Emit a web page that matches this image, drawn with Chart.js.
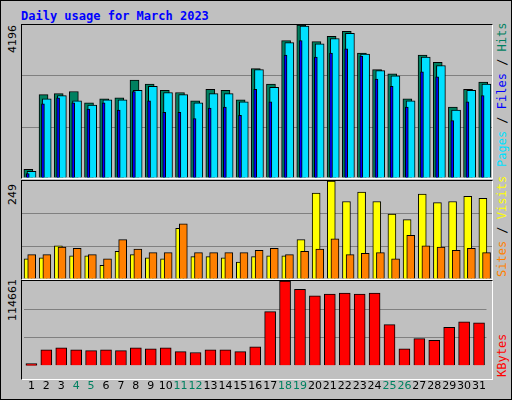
<html>
<head>
<script src="https://cdn.jsdelivr.net/npm/chart.js"></script>
<style>
  body { margin: 0; background: #c0c0c0; }
  #frame { position: absolute; left: 0; top: 0; width: 510px; height: 398px; border: 1px solid #000; background: #c0c0c0; overflow: hidden; }
  .panel { position: absolute; left: 20px; width: 470px; border: 1px solid #000; border-right-color: #fff; border-bottom-color: #fff; }
  canvas { position: absolute; }
  .rot { position: absolute; transform-origin: left top; transform: rotate(-90deg); white-space: nowrap; font-family: "DejaVu Sans Mono", monospace; font-size: 12px; }
  #title { position: absolute; left: 20px; top: 8px; font: bold 12px "DejaVu Sans Mono", monospace; color: #0000ff; }
</style>
</head>
<body>
<div id="frame">
  <div id="title">Daily usage for March 2023</div>
  <div class="panel" style="top:23px;height:153px"></div>
  <div class="panel" style="top:179px;height:98px"></div>
  <div class="panel" style="top:279px;height:98px"></div>
  <canvas id="c1" style="left:21px;top:24px;width:470px;height:153px"></canvas>
  <canvas id="c2" style="left:21px;top:180px;width:470px;height:98px"></canvas>
  <canvas id="c3" style="left:21px;top:280px;width:470px;height:118px"></canvas>
  <div class="rot" style="left:5px;top:52px;font-family:'DejaVu Sans';font-size:11px">4196</div>
  <div class="rot" style="left:5px;top:204px;font-family:'DejaVu Sans';font-size:11px">249</div>
  <div class="rot" style="left:5px;top:320px;font-family:'DejaVu Sans';font-size:11px">114661</div>
  <div class="rot" style="left:494px;top:166px"><span style="color:#00e0ff">Pages</span> / <span style="color:#0000ff">Files</span> / <span style="color:#008060">Hits</span></div>
  <div class="rot" style="left:494px;top:276px"><span style="color:#ff8000">Sites</span> / <span style="color:#ffff00">Visits</span></div>
  <div class="rot" style="left:494px;top:376px"><span style="color:#ff0000">KBytes</span></div>
</div>
<script>
  const days = [1,2,3,4,5,6,7,8,9,10,11,12,13,14,15,16,17,18,19,20,21,22,23,24,25,26,27,28,29,30,31];
  const weekends = [4,5,11,12,18,19,25,26];
  const hits = [237,2288,2316,2373,2060,2174,2202,2686,2573,2402,2345,2117,2430,2402,2145,3000,2573,3769,4196,3740,3883,4025,3427,2971,2857,2174,3370,3171,1946,2430,2630];
  const files = [180,2174,2259,2117,2003,2145,2145,2402,2516,2345,2288,2060,2316,2316,2088,2971,2487,3712,4167,3683,3826,3968,3398,2943,2800,2117,3313,3085,1861,2402,2573];
  const pages = [123,2031,2202,2060,1889,2060,1861,2373,2117,1804,1804,1633,1918,1946,1718,2430,2088,3370,3769,3313,3427,3541,3341,2715,2516,1946,2914,2772,1576,2088,2259];
  const visits = [51,54,84,59,59,35,70,62,54,51,129,57,57,54,43,57,59,59,100,218,249,197,221,197,165,151,216,194,197,210,205];
  const sites = [62,62,81,78,62,51,100,76,67,67,140,67,67,67,67,73,78,62,70,76,102,62,65,67,51,111,84,81,73,78,67];
  const kbytes = [2930,21760,24270,21760,20500,21760,20500,24270,23020,24270,19250,18000,21760,21760,19250,25530,73240,114661,103370,94580,97090,98350,97090,98350,55660,23020,36830,34320,51890,59430,58170];

  function pts(arr, shift) {
    return arr.map((v, i) => ({ x: days[i] + shift, y: v }));
  }
  function ds(arr, shift, color, w) {
    return { data: pts(arr, shift), backgroundColor: color, borderColor: '#000', borderWidth: 1, barThickness: w, grouped: false, borderSkipped: 'bottom' };
  }
  function opts(max, showX) {
    return {
      animation: false, responsive: false, devicePixelRatio: 1,
      plugins: { legend: { display: false }, tooltip: { enabled: false } },
      layout: { padding: 0 },
      scales: {
        x: {
          type: 'linear', min: 0.5, max: 31.5, display: showX, offset: false,
          grid: { display: false }, border: { display: false },
          afterBuildTicks: s => { s.ticks = days.map(d => ({ value: d })); },
          ticks: {
            autoSkip: false, maxRotation: 0, padding: 6,
            font: { family: 'DejaVu Sans', size: 11 },
            color: c => weekends.includes(c.tick.value) ? '#008060' : '#000',
            callback: v => String(v)
          }
        },
        y: {
          min: 0, max: max, display: true,
          ticks: { display: false, stepSize: max / 3 },
          border: { display: false },
          grid: { color: c => (c.tick.value > 0 && c.tick.value < max) ? '#808080' : 'rgba(0,0,0,0)', drawTicks: false, lineWidth: 1 }
        }
      }
    };
  }
  function make(id, w, h, datasets, max, showX) {
    const cv = document.getElementById(id);
    cv.width = w; cv.height = h;
    return new Chart(cv, { type: 'bar', data: { datasets: datasets }, options: opts(max, showX) });
  }
  make('c1', 470, 153, [
    ds(pages, -0.12, '#0000ff', 3),
    ds(files, 0.13, '#00e0ff', 9),
    ds(hits, -0.08, '#008060', 9)
  ], 4196, false);
  make('c2', 470, 98, [
    ds(sites, 0.14, '#ff8000', 8),
    ds(visits, -0.1, '#ffff00', 8)
  ], 249, false);
  make('c3', 470, 118, [
    ds(kbytes, 0, '#ff0000', 11)
  ], 114661, true);
</script>
</body>
</html>
